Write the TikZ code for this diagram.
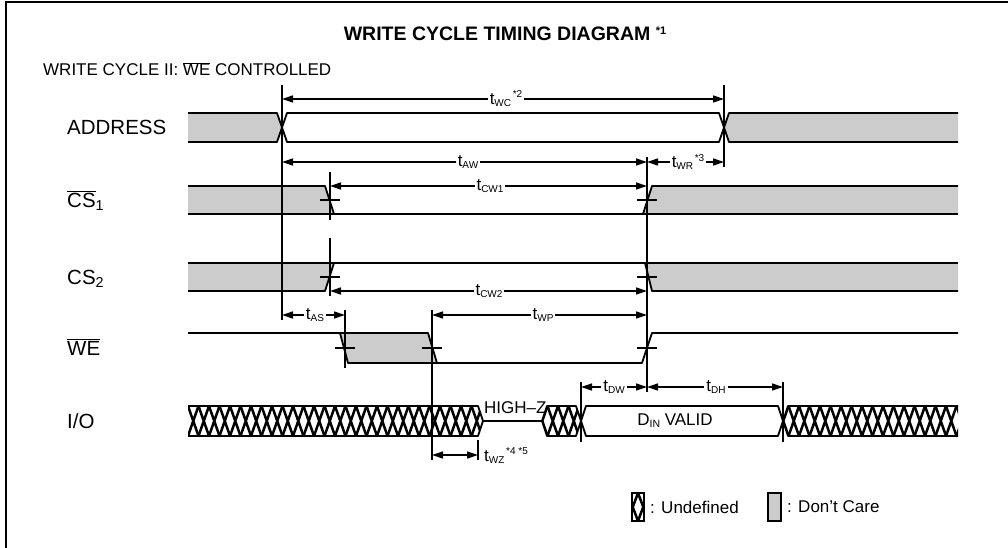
\documentclass[tikz,border=0pt]{standalone}
\usepackage{fontspec}
\setmainfont{Liberation Sans}
\usetikzlibrary{arrows.meta}
\newcommand{\tsym}[2]{t\raisebox{-0.25ex}{\fontsize{10}{10}\selectfont #1}\ifx&#2&\else\raisebox{0.75ex}{\fontsize{10}{10}\selectfont\,#2}\fi}
\begin{document}
\begin{tikzpicture}[x=1pt,y=-1pt,
  sig/.style={line width=1.8pt, line join=round},
  dc/.style={fill=black!20},
  hl/.style={line width=2.5pt},
  dim/.style={line width=1.3pt, {Triangle[length=11pt,width=7pt]}-{Triangle[length=11pt,width=7pt]}},
  ref/.style={line width=1.4pt},
  tick/.style={line width=1.4pt},
  lbl/.style={font=\fontsize{20.5}{20.5}\selectfont, anchor=base west, inner sep=0pt},
  tl/.style={fill=white, inner xsep=2pt, inner ysep=1pt, font=\fontsize{17}{17}\selectfont},
]
\useasboundingbox (0,0) rectangle (1008,548);
% frame
\draw[line width=2pt] (6,548) -- (6,2) -- (1008,2);

% title
\node[font=\bfseries\fontsize{19.5}{20}\selectfont, inner sep=0pt] (title) at (505,34)
  {WRITE CYCLE TIMING DIAGRAM \raisebox{0.6ex}{\fontsize{11}{11}\selectfont *1}};
\node[font=\fontsize{17}{17}\selectfont, anchor=base west, inner sep=0pt] (sub) at (43,76)
  {WRITE CYCLE II: $\overline{\mbox{WE}}$ CONTROLLED};

% signal labels
\node[lbl] (lA)  at (67,135) {ADDRESS};
\node[lbl] (lC1) at (67,207) {$\overline{\mbox{CS}}$\textsubscript{1}};
\node[lbl] (lC2) at (67,284) {CS\textsubscript{2}};
\node[lbl] (lW)  at (67,355) {$\overline{\mbox{WE}}$};
\node[lbl] (lIO) at (67,428) {I/O};

% ---------- ADDRESS ----------
\fill[dc] (188,113) -- (277,113) -- (282,127.5) -- (277,142) -- (188,142) -- cycle;
\fill[dc] (958,113) -- (729,113) -- (724,127.5) -- (729,142) -- (958,142) -- cycle;
\draw[sig] (188,113) -- (277,113) -- (282,127.5) -- (277,142) -- (188,142);
\draw[sig] (282,127.5) -- (287,113) -- (719,113) -- (724,127.5) -- (719,142) -- (287,142) -- cycle;
\draw[sig] (958,113) -- (729,113) -- (724,127.5) -- (729,142) -- (958,142);

% ---------- CS1 ----------
\fill[dc] (188,186) -- (325,186) -- (334,214) -- (188,214) -- cycle;
\fill[dc] (643,214) -- (652,186) -- (958,186) -- (958,214) -- cycle;
\draw[sig] (188,186) -- (325,186) -- (334,214);
\draw[sig] (188,214) -- (643,214) -- (652,186) -- (958,186);
\draw[sig] (643,214) -- (958,214);

% ---------- CS2 ----------
\fill[dc] (188,263) -- (334,263) -- (325,291) -- (188,291) -- cycle;
\fill[dc] (645,263) -- (958,263) -- (958,291) -- (652,291) -- cycle;
\draw[sig] (188,291) -- (325,291) -- (334,263);
\draw[sig] (188,263) -- (645,263) -- (652,291) -- (958,291);
\draw[sig] (645,263) -- (958,263);

% ---------- WE ----------
\fill[dc] (340,333) -- (428,333) -- (437,363) -- (348,363) -- cycle;
\draw[sig] (188,333) -- (340,333) -- (348,363) -- (642,363) -- (652,333) -- (958,333);
\draw[sig] (340,333) -- (428,333) -- (437,363);

% ---------- I/O ----------
\begin{scope}
  \clip (188,406) -- (478,406) -- (483,421) -- (478,436) -- (188,436) -- cycle;
  \foreach \i in {0,...,29} {
    \draw[hl] ({177.5+10.5*\i},406) -- ({188+10.5*\i},436)
              ({177.5+10.5*\i},436) -- ({188+10.5*\i},406);
  }
\end{scope}
\draw[sig] (188,406) -- (478,406) -- (483,421) -- (478,436) -- (188,436);
\draw[sig] (483,421) -- (542,421);
\begin{scope}
  \clip (542,421) -- (547,406) -- (576,406) -- (581,421) -- (576,436) -- (547,436) -- cycle;
  \foreach \i in {0,...,4} {
    \draw[hl] ({537+10.5*\i},406) -- ({547.5+10.5*\i},436)
              ({537+10.5*\i},436) -- ({547.5+10.5*\i},406);
  }
\end{scope}
\draw[sig] (542,421) -- (547,406) -- (576,406) -- (581,421) -- (576,436) -- (547,436) -- cycle;
\draw[sig] (581,421) -- (586,406) -- (778,406) -- (783,421) -- (778,436) -- (586,436) -- cycle;
\begin{scope}
  \clip (783,421) -- (788,406) -- (958,406) -- (958,436) -- (788,436) -- cycle;
  \foreach \i in {0,...,17} {
    \draw[hl] ({778+10.5*\i},406) -- ({788.5+10.5*\i},436)
              ({778+10.5*\i},436) -- ({788.5+10.5*\i},406);
  }
\end{scope}
\draw[sig] (958,406) -- (788,406) -- (783,421) -- (788,436) -- (958,436);
\node[font=\fontsize{17}{17}\selectfont, anchor=base west, inner sep=0pt] (hz) at (484,413) {HIGH--Z};
\node[font=\fontsize{17}{17}\selectfont, inner sep=0pt] (din) at (675,421)
  {D\raisebox{-0.25ex}{\fontsize{10.5}{10.5}\selectfont IN} VALID};

% ---------- reference lines ----------
\draw[ref] (282,85) -- (282,320);
\draw[ref] (724,85) -- (724,167);
\draw[ref] (647,157) -- (647,392);
\draw[ref] (330,172) -- (330,220);
\draw[ref] (330,238) -- (330,296);
\draw[ref] (345,310) -- (345,368);
\draw[ref] (432,310) -- (432,460);
\draw[ref] (478,440) -- (478,460);
\draw[ref] (581,382) -- (581,442);
\draw[ref] (783,382) -- (783,442);

% ticks
\draw[tick] (320,200) -- (340,200) (637,200) -- (657,200);
\draw[tick] (320,277) -- (340,277) (637,277) -- (657,277);
\draw[tick] (335,348) -- (355,348) (422,348) -- (442,348) (637,348) -- (657,348);

% ---------- dimensions ----------
\coordinate (wcA) at (282,99);  \coordinate (wcB) at (724,99);
\coordinate (awA) at (282,162); \coordinate (awB) at (647,162);
\coordinate (wrB) at (724,162);
\coordinate (c1A) at (330,186); \coordinate (c1B) at (647,186);
\coordinate (c2A) at (330,291); \coordinate (c2B) at (647,291);
\coordinate (asA) at (282,315); \coordinate (asB) at (345,315);
\coordinate (wpA) at (432,315); \coordinate (wpB) at (647,315);
\coordinate (dwA) at (581,387); \coordinate (dwB) at (647,387);
\coordinate (dhB) at (783,387);
\coordinate (wzA) at (432,455); \coordinate (wzB) at (478,455);

\draw[dim] (wcA) -- (wcB);
\draw[dim] (awA) -- (awB);
\draw[dim] (awB) -- (wrB);
\draw[dim] (c1A) -- (c1B);
\draw[dim] (c2A) -- (c2B);
\draw[dim] (asA) -- (asB);
\draw[dim] (wpA) -- (wpB);
\draw[dim] (dwA) -- (dwB);
\draw[dim] (dwB) -- (dhB);
\draw[dim] (wzA) -- (wzB);

\node[tl] (twc) at (506,99)  {\tsym{WC}{*2}};
\node[tl] (taw) at (468,162) {\tsym{AW}{}};
\node[tl] (twr) at (688,162) {\tsym{WR}{*3}};
\node[tl] (tc1) at (490,186) {\tsym{CW1}{}};
\node[tl] (tc2) at (489,291) {\tsym{CW2}{}};
\node[tl] (tas) at (315,315) {\tsym{AS}{}};
\node[tl] (twp) at (543,315) {\tsym{WP}{}};
\node[tl] (tdw) at (614,387) {\tsym{DW}{}};
\node[tl] (tdh) at (716,387) {\tsym{DH}{}};
\node[tl, anchor=west, fill=none, inner xsep=0pt] (twz) at (484,456) {\tsym{WZ}{*4 *5}};

% ---------- legend ----------
\begin{scope}
  \clip (632,493) rectangle (644,521);
  \fill[white] (632,493) rectangle (644,521);
  \draw[hl] (627.5,493) -- (638,521) (627.5,521) -- (638,493)
            (638,493) -- (648.5,521) (638,521) -- (648.5,493);
\end{scope}
\draw[line width=1.4pt] (632,493) rectangle (644,521);
\node[font=\fontsize{17}{17}\selectfont, anchor=west, inner sep=0pt] (lu) at (650,507) {: Undefined};
\fill[dc] (768,493) rectangle (781,521);
\draw[line width=1.4pt] (768,493) rectangle (781,521);
\node[font=\fontsize{17}{17}\selectfont, anchor=west, inner sep=0pt] (ld) at (787,507) {: Don't Care};
\end{tikzpicture}
\end{document}
